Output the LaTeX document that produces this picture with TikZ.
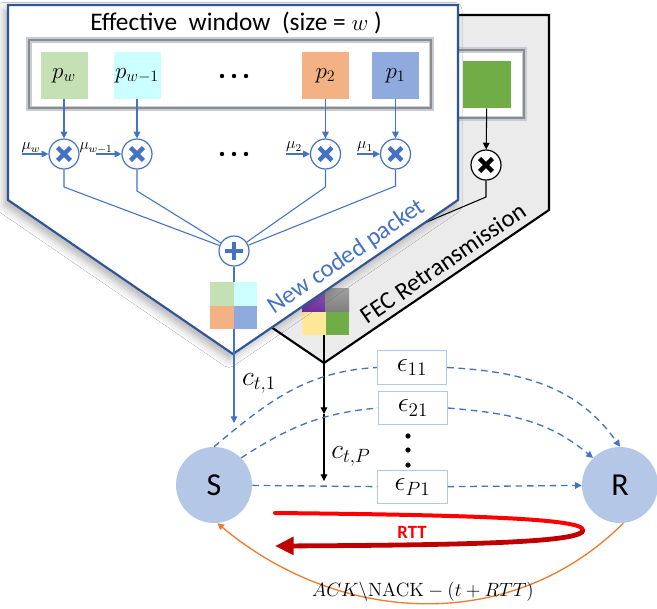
\documentclass[tikz,border=0pt]{standalone}
\usepackage[no-math]{fontspec}
\setmainfont{Carlito}
\usetikzlibrary{arrows.meta,shadows.blur}
\definecolor{bl}{HTML}{4472C4}
\definecolor{bdark}{HTML}{2F5597}
\definecolor{snode}{HTML}{B4C7E7}
\definecolor{orng}{HTML}{ED7D31}
\definecolor{cpw}{HTML}{C5E0B4}
\definecolor{cpwa}{HTML}{CCFFFF}
\definecolor{cptwo}{HTML}{F4B183}
\definecolor{cpone}{HTML}{8FAADC}
\definecolor{gfill}{HTML}{EBEBEB}
\definecolor{grn}{HTML}{70AD47}
\definecolor{purpa}{HTML}{9966CC}
\definecolor{purpb}{HTML}{7030A0}
\definecolor{gsqa}{HTML}{A0A0A0}
\definecolor{gsqb}{HTML}{7F7F7F}
\definecolor{ylw}{HTML}{FFE699}
\definecolor{rtta}{HTML}{FF0000}
\definecolor{rttb}{HTML}{C00000}
\definecolor{frameA}{HTML}{C8CCD4}
\definecolor{frameB}{HTML}{8C8C8C}
\begin{document}
\begin{tikzpicture}[x=0.75pt,y=-0.75pt,
  tri/.style={-{Triangle[length=5pt,width=5pt]}},
  pkt/.style={minimum width=35.25pt,minimum height=35.25pt,inner sep=0pt,font=\fontsize{18}{20}\selectfont},
  mulb/.style={circle,draw=bl,fill=white,line width=0.9pt,minimum size=22.5pt,inner sep=0pt,
    path picture={\draw[bl,line width=3.3pt]
      ([shift={(-4.8pt,-4.8pt)}]path picture bounding box.center) -- ([shift={(4.8pt,4.8pt)}]path picture bounding box.center)
      ([shift={(-4.8pt,4.8pt)}]path picture bounding box.center) -- ([shift={(4.8pt,-4.8pt)}]path picture bounding box.center);}},
  mulk/.style={circle,draw=black,fill=white,line width=0.9pt,minimum size=22.5pt,inner sep=0pt,
    path picture={\draw[black,line width=3.3pt]
      ([shift={(-4.8pt,-4.8pt)}]path picture bounding box.center) -- ([shift={(4.8pt,4.8pt)}]path picture bounding box.center)
      ([shift={(-4.8pt,4.8pt)}]path picture bounding box.center) -- ([shift={(4.8pt,-4.8pt)}]path picture bounding box.center);}},
  addb/.style={circle,draw=bl,fill=white,line width=0.9pt,minimum size=22.5pt,inner sep=0pt,
    path picture={\draw[bl,line width=3.6pt]
      ([shift={(-7pt,0pt)}]path picture bounding box.center) -- ([shift={(7pt,0pt)}]path picture bounding box.center)
      ([shift={(0pt,-7pt)}]path picture bounding box.center) -- ([shift={(0pt,7pt)}]path picture bounding box.center);}},
  bline/.style={draw=bl,line width=0.8pt},
  kline/.style={draw=black,line width=0.8pt},
  ebox/.style={draw=snode,fill=white,line width=0.6pt,minimum width=52pt,minimum height=25pt,inner sep=0pt,font=\fontsize{21}{23}\selectfont},
  srnode/.style={circle,fill=snode,minimum size=57pt,inner sep=0pt,font=\fontsize{24}{26}\selectfont},
  dsh/.style={draw=bl,line width=1pt,dash pattern=on 5pt off 3.5pt},
  mulbl/.style={inner sep=0pt,font=\fontsize{12}{13}\selectfont},
  clbl/.style={inner sep=0pt,font=\fontsize{20}{22}\selectfont}
]
\useasboundingbox (0,0) rectangle (657,608);
\fill[white] (0,0) rectangle (657,608);

% ---------- FEC (gray) panel ----------
\path[fill=gfill,draw=black,line width=1.6pt,line join=miter]
  (99,15) -- (549,15) -- (549,210) -- (324,363) -- (99,210) -- cycle;
\draw[frameA,line width=4.5pt] (122,50) rectangle (524,118);
\draw[frameB,line width=2pt] (122,50) rectangle (524,118);
\fill[white] (124.5,52.5) rectangle (521.5,115.5);
\node[fill=grn,minimum width=36pt,minimum height=35.25pt,inner sep=0pt] (gsq) at (487,84.5) {};
\node[mulk] (mb) at (486,165) {};
\coordinate (kb) at (486,197);
\coordinate (fecsum) at (325,265);
\draw[kline,tri] (gsq) -- (mb);
\draw[kline] (mb.south) -- (kb) -- (fecsum);
% FEC mosaic
\shade[top color=purpa,bottom color=purpb] (302,288) rectangle (325.5,311.5);
\shade[top color=gsqa,bottom color=gsqb] (325.5,288) rectangle (349,311.5);
\fill[ylw] (302,311.5) rectangle (325.5,335);
\fill[grn] (325.5,311.5) rectangle (349,335);
\coordinate (fecb) at (324,335);
\node[font=\fontsize{18.5}{20}\selectfont,rotate=34.4,inner sep=0pt] (fecr) at (443,263) {FEC Retransmission};

% ---------- Effective window (blue) panel ----------
\path[blur shadow={shadow xshift=-3pt,shadow yshift=-4pt,shadow blur radius=6pt,shadow opacity=30},
  fill=white,draw=bdark,line width=1.6pt,line join=miter]
  (8,5) -- (458,5) -- (458,200) -- (233,354) -- (8,200) -- cycle;
\node[font=\fontsize{19}{21}\selectfont,inner sep=0pt] (title) at (236,23) {Effective\ \ window\ \ (size = $w$ )};
\draw[frameA,line width=4.5pt] (29,40) rectangle (431,108);
\draw[frameB,line width=2pt] (29,40) rectangle (431,108);
\fill[white] (31.5,42.5) rectangle (428.5,105.5);

\node[pkt,fill=cpw] (pw) at (64,75.5) {$p_w$};
\node[pkt,fill=cpwa] (pwa) at (137,75.5) {$p_{w-1}$};
\node[pkt,fill=cptwo] (ptwo) at (325.5,75.5) {$p_2$};
\node[pkt,fill=cpone] (pone) at (395.5,75.5) {$p_1$};
\fill (222,76) circle (2.2) (234,76) circle (2.2) (246,76) circle (2.2);

\node[mulb] (mw) at (64,154) {};
\node[mulb] (mwa) at (137,154) {};
\node[mulb] (mtwo) at (325.5,154) {};
\node[mulb] (mone) at (395.5,154) {};
\fill (222,154) circle (2.2) (234,154) circle (2.2) (246,154) circle (2.2);

\draw[bline,tri] (pw) -- (mw);
\draw[bline,tri] (pwa) -- (mwa);
\draw[bline,tri] (ptwo) -- (mtwo);
\draw[bline,tri] (pone) -- (mone);

\node[mulbl] (muw) at (31,148) {$\mu_w$};
\node[mulbl] (muwa) at (96,148) {$\mu_{w-1}$};
\node[mulbl] (mutwo) at (294,147) {$\mu_2$};
\node[mulbl] (muone) at (365,147) {$\mu_1$};
\coordinate (aw) at (22,154);
\coordinate (awa) at (96,154);
\coordinate (atwo) at (286,154);
\coordinate (aone) at (357,154);
\draw[bline,tri] (aw) -- (mw);
\draw[bline,tri] (awa) -- (mwa);
\draw[bline,tri] (atwo) -- (mtwo);
\draw[bline,tri] (aone) -- (mone);

\node[addb] (plus) at (234,251) {};
\coordinate (kw) at (64,187);
\coordinate (kwa) at (137,191);
\coordinate (ktwo) at (325.5,187);
\coordinate (kone) at (395.5,186);
\draw[bline] (mw.south) -- (kw) -- (plus);
\draw[bline] (mwa.south) -- (kwa) -- (plus);
\draw[bline] (mtwo.south) -- (ktwo) -- (plus);
\draw[bline] (mone.south) -- (kone) -- (plus);

% vertical connectors
\coordinate (cend) at (234,423);
\draw[bline,tri] (plus) -- (cend);
\fill[cpw] (210,282) rectangle (233.5,305.5);
\fill[cpwa] (233.5,282) rectangle (257,305.5);
\fill[cptwo] (210,305.5) rectangle (233.5,329);
\fill[cpone] (233.5,305.5) rectangle (257,329);

\coordinate (kmid) at (324,414);
\coordinate (kend) at (324,481);
\draw[kline,tri] (fecb) -- (kmid);
\draw[kline,tri] (kmid) -- (kend);

\node[text=bl,font=\fontsize{18.5}{20}\selectfont,rotate=34.4,inner sep=0pt] (ncp) at (347,257) {New coded packet};

\node[clbl] (cta) at (259,383) {$c_{t,1}$};
\node[clbl] (ctp) at (351,456) {$c_{t,P}$};

% ---------- channel ----------
\node[srnode] (S) at (214,485) {S};
\node[srnode] (R) at (620,485) {R};
\node[ebox] (eaa) at (412,367.5) {$\epsilon_{11}$};
\node[ebox] (eba) at (413,408) {$\epsilon_{21}$};
\node[ebox] (epa) at (412.5,487) {$\epsilon_{P1}$};
\fill (408,436) circle (2.6) (408,450) circle (2.6) (408,465) circle (2.6);

\draw[dsh] (S.north) to[out=40,in=183] (eaa.west);
\draw[dsh,tri] (eaa.east) to[out=-3,in=125] (R.north);
\draw[dsh] (S.45) to[out=33,in=185] (eba.west);
\draw[dsh,tri] (eba.east) to[out=-5,in=140] (R.135);
\draw[dsh] (S) -- (epa);
\draw[dsh,tri] (epa) -- (R);

\draw[orng,line width=1pt,tri] (R.-85) to[out=-135,in=-40] (S.-85);
\node[font=\fontsize{15.5}{17}\selectfont,inner sep=0pt] (ack) at (423,592) {$ACK\backslash\mathrm{NACK}-(t+RTT)$};

\coordinate (rs) at (275,513);
\coordinate (rturn) at (583,530);
\coordinate (rtip) at (275,546);
\draw[rtta,line width=3pt,line cap=round] (rs) .. controls (480,515) and (583,519) .. (rturn);
\draw[rttb,line width=3.6pt,-{Triangle[length=14pt,width=13pt]}] (rturn) .. controls (583,542) and (480,545) .. (rtip);
\node[text=rtta,font=\bfseries\fontsize{14}{16}\selectfont,inner sep=0pt] (rttl) at (412,532) {RTT};
\end{tikzpicture}
\end{document}
